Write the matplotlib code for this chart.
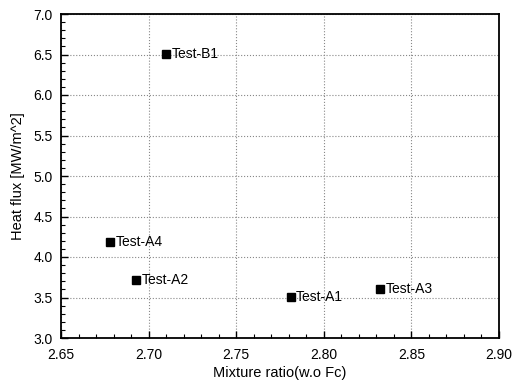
import matplotlib
matplotlib.use("Agg")
import matplotlib.pyplot as plt
from matplotlib.ticker import MultipleLocator

# ----- data -----
labels = ["Test-B1", "Test-A4", "Test-A2", "Test-A1", "Test-A3"]
mixture_ratio = [2.710, 2.678, 2.693, 2.781, 2.832]
heat_flux = [6.51, 4.18, 3.71, 3.51, 3.60]

plt.rcParams['font.family'] = ['Liberation Sans', 'DejaVu Sans']

fig = plt.figure(figsize=(5.22, 3.84), dpi=100)
ax = fig.add_axes([61 / 522, 46 / 384, 438 / 522, 324 / 384])

ax.plot(mixture_ratio, heat_flux, "s", color="black", markersize=6, zorder=3)
for lbl, x, y in zip(labels, mixture_ratio, heat_flux):
    ax.annotate(lbl, (x, y), xytext=(4, 0), textcoords="offset points",
                va="center", ha="left", fontsize=10, zorder=4)

ax.set_xlim(2.65, 2.90)
ax.set_ylim(3.0, 7.0)
ax.xaxis.set_major_locator(MultipleLocator(0.05))
ax.xaxis.set_minor_locator(MultipleLocator(0.01))
ax.yaxis.set_major_locator(MultipleLocator(0.5))
ax.yaxis.set_minor_locator(MultipleLocator(0.1))
ax.xaxis.set_major_formatter(plt.FormatStrFormatter("%.2f"))
ax.yaxis.set_major_formatter(plt.FormatStrFormatter("%.1f"))

ax.tick_params(which="both", direction="in", top=False, right=False, labelsize=10)
ax.tick_params(which="major", length=5, width=1)
ax.tick_params(which="minor", length=3, width=0.8)
ax.tick_params(axis="x", pad=7)
ax.tick_params(axis="y", pad=6)
for s in ax.spines.values():
    s.set_linewidth(1.3)

ax.grid(True, which="major", linestyle=":", color="#888888", linewidth=0.8)
ax.set_axisbelow(True)

ax.set_xlabel("Mixture ratio(w.o Fc)", fontsize=10.5, labelpad=3)
ax.set_ylabel("Heat flux [MW/m^2]", fontsize=10.5, labelpad=6)

fig.savefig("out.png", dpi=100)
